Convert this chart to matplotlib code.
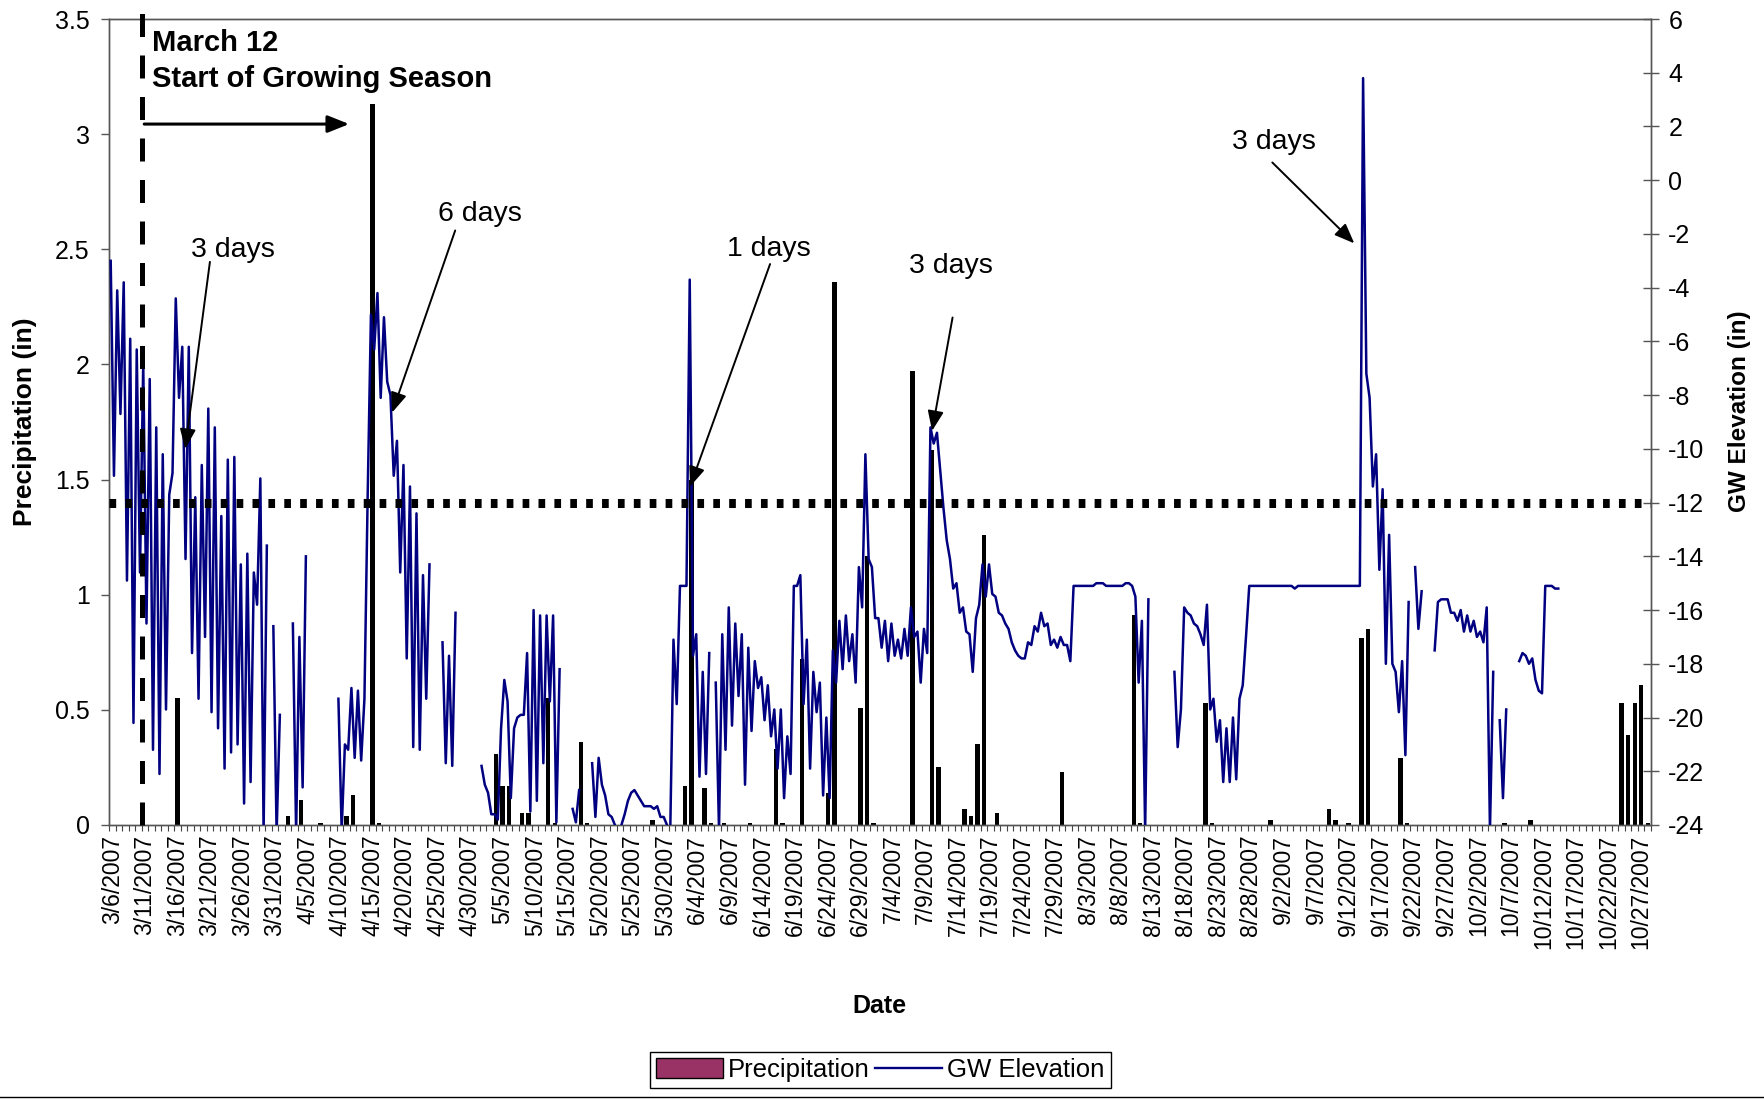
import matplotlib
matplotlib.use('Agg')
import matplotlib.pyplot as plt
import numpy as np
import pandas as pd
from matplotlib.patches import Patch
from matplotlib.lines import Line2D

plt.rcParams['font.family'] = ['Liberation Sans', 'DejaVu Sans']
plt.rcParams['axes.unicode_minus'] = False

# one category per day, 3/6/2007 .. 10/28/2007
start = pd.Timestamp('2007-03-06')
n_days = 237
dates = pd.date_range(start, periods=n_days)

# daily precipitation (in), only the days with a bar
rain_dates = ['3/16', '4/2', '4/4', '4/7', '4/11', '4/12', '4/15', '4/16', '5/4', '5/5',
              '5/6', '5/8', '5/9', '5/12', '5/13', '5/17', '5/18', '5/28', '6/2', '6/3',
              '6/5', '6/6', '6/8', '6/12', '6/16', '6/17', '6/20', '6/24', '6/25', '6/29',
              '6/30', '7/1', '7/7', '7/10', '7/11', '7/15', '7/16', '7/17', '7/18', '7/20',
              '7/30', '8/10', '8/11', '8/21', '8/22', '8/31', '9/9', '9/10', '9/12', '9/14',
              '9/15', '9/20', '9/21', '10/6', '10/10', '10/24', '10/25', '10/26', '10/27', '10/28']
rain_in = [0.55, 0.04, 0.11, 0.01, 0.04, 0.13, 3.13, 0.01, 0.31, 0.17,
           0.17, 0.05, 0.05, 0.55, 0.01, 0.36, 0.01, 0.02, 0.17, 1.50,
           0.16, 0.01, 0.01, 0.01, 0.33, 0.01, 0.72, 0.14, 2.36, 0.51,
           1.17, 0.01, 1.97, 1.63, 0.25, 0.07, 0.04, 0.35, 1.26, 0.05,
           0.23, 0.91, 0.01, 0.53, 0.01, 0.02, 0.07, 0.02, 0.01, 0.81,
           0.85, 0.29, 0.01, 0.01, 0.02, 0.53, 0.39, 0.53, 0.61, 0.01]

# groundwater elevation (in), two readings a day from 3/6, None = no reading
gw_elev = [
    -3.0, -11.0, -4.1, -8.7, -3.8, -14.9, -5.9, -20.2, -6.3, -14.6,
    -6.8, -16.5, -7.4, -21.2, -9.2, -22.1, -10.2, -19.7, -11.7, -10.9,
    -4.4, -8.1, -6.2, -14.1, -6.2, -17.6, -11.8, -19.3, -10.6, -17.0,
    -8.5, -19.8, -9.2, -20.4, -12.5, -21.9, -10.4, -21.3, -10.3, -21.0,
    -14.3, -23.2, -13.9, -22.4, -14.6, -15.8, -11.1, -24.3, -13.6, None,
    -16.6, -24.3, -19.9, None, None, None, -16.5, -24.3, -17.0, -22.6,
    -14.0, None, None, None, None, None, None, None, None, None,
    -19.3, -24.2, -21.0, -21.2, -18.9, -21.5, -19.0, -21.6, -19.3, -11.7,
    -5.0, -6.3, -4.2, -8.1, -5.1, -7.5, -8.0, -11.0, -9.7, -14.6,
    -10.6, -17.8, -11.4, -21.1, -12.4, -21.2, -14.7, -19.3, -14.3, None,
    None, None, -17.2, -21.7, -17.7, -21.8, -16.1, None, None, None,
    None, None, None, None, -21.8, -22.5, -22.8, -23.6, -23.6, -23.8,
    -20.4, -18.6, -19.4, -23.0, -20.4, -20.0, -19.9, -19.9, -17.6, -23.5,
    -16.0, -23.1, -16.2, -21.7, -16.2, -19.4, -16.2, -23.9, -18.2, None,
    None, None, -23.4, -23.9, -22.7, None, None, None, -21.7, -23.7,
    -21.5, -22.5, -22.9, -23.6, -23.7, -24.0, -24.3, -24.0, -23.6, -23.1,
    -22.8, -22.7, -22.9, -23.1, -23.3, -23.3, -23.3, -23.4, -23.3, -23.7,
    -23.7, -24.0, -24.3, -17.1, -19.5, -15.1, -15.1, -15.1, -3.7, -17.7,
    -16.9, -22.2, -18.3, -22.1, -17.6, None, -18.7, -24.2, -16.9, -21.2,
    -15.9, -20.3, -16.5, -19.2, -16.9, -22.5, -17.4, -20.5, -17.9, -18.9,
    -18.5, -20.1, -18.8, -20.7, -19.7, -21.9, -19.7, -23.0, -20.7, -22.1,
    -15.1, -15.1, -14.7, -19.5, -17.1, -21.9, -18.3, -19.8, -18.7, -22.9,
    -20.0, -23.0, -17.5, -18.7, -16.4, -18.2, -16.2, -17.9, -16.9, -18.7,
    -14.4, -15.9, -10.2, -14.1, -14.4, -16.3, -16.3, -17.4, -16.4, -17.9,
    -16.5, -17.7, -17.1, -17.8, -16.7, -17.7, -15.9, -17.0, -16.8, -18.7,
    -16.7, -17.6, -9.2, -9.8, -9.4, -10.8, -12.2, -13.4, -14.1, -15.2,
    -15.0, -16.1, -15.9, -16.8, -16.9, -18.3, -16.3, -15.8, -14.3, -15.5,
    -14.3, -15.4, -15.5, -16.1, -16.2, -16.5, -16.7, -17.2, -17.5, -17.7,
    -17.8, -17.8, -17.2, -17.3, -16.6, -16.8, -16.1, -16.6, -16.5, -17.3,
    -17.1, -17.4, -17.0, -17.3, -17.3, -17.9, -15.1, -15.1, -15.1, -15.1,
    -15.1, -15.1, -15.1, -15.0, -15.0, -15.0, -15.1, -15.1, -15.1, -15.1,
    -15.1, -15.1, -15.0, -15.0, -15.1, -15.5, -18.7, -16.4, -24.2, -15.6,
    None, None, None, None, None, None, None, -18.3, -21.1, -19.7,
    -15.9, -16.1, -16.2, -16.5, -16.6, -16.9, -17.3, -15.8, -19.7, -19.3,
    -20.9, -20.1, -22.4, -20.4, -22.4, -20.0, -22.3, -19.3, -18.8, -17.0,
    -15.1, -15.1, -15.1, -15.1, -15.1, -15.1, -15.1, -15.1, -15.1, -15.1,
    -15.1, -15.1, -15.1, -15.1, -15.2, -15.1, -15.1, -15.1, -15.1, -15.1,
    -15.1, -15.1, -15.1, -15.1, -15.1, -15.1, -15.1, -15.1, -15.1, -15.1,
    -15.1, -15.1, -15.1, -15.1, -15.1, 3.8, -7.2, -8.1, -11.4, -10.2,
    -14.5, -11.5, -18.0, -13.2, -18.0, -18.3, -19.8, -17.9, -21.4, -15.7,
    None, -14.4, -16.7, -15.3, None, None, None, -17.5, -15.7, -15.6,
    -15.6, -15.6, -16.1, -16.1, -16.4, -16.0, -16.8, -16.2, -16.8, -16.4,
    -17.0, -16.8, -17.2, -15.9, -24.2, -18.3, None, -20.1, -23.0, -19.7,
    None, None, None, -17.9, -17.6, -17.7, -18.0, -17.8, -18.6, -19.0,
    -19.1, -15.1, -15.1, -15.1, -15.2, -15.2,
]

# build the daily precipitation series
rain_idx = [(pd.Timestamp(d + '/2007') - start).days for d in rain_dates]
precip = np.zeros(n_days)
precip[rain_idx] = rain_in

gw = np.array(gw_elev, dtype=float)
gw_t = 0.25 + 0.5 * np.arange(len(gw))

fig = plt.figure(figsize=(17.65, 11), dpi=100)
ax = fig.add_axes([0.0618, 0.25, 0.8736, 0.7327])
ax2 = ax.twinx()

ax.bar(np.arange(n_days) + 0.5, precip, width=0.68, color='black', zorder=2)
ax2.plot(gw_t, gw, color='#000080', lw=1.8, zorder=3)

# 12 in below surface criterion and start of growing season
ax2.axhline(-12, color='black', lw=6.5, linestyle=(0, (0.74, 1.02)),
            dash_capstyle='butt', zorder=5)
ax2.plot([5.1, 5.1], [-24, 6.75], color='black', lw=3.6,
         linestyle=(0, (4.6, 3.7)), clip_on=False, zorder=5)

ax.set_xlim(0, n_days)
ax.set_ylim(0, 3.5)
ax2.set_ylim(-24, 6)

tick_pos = np.arange(0, n_days, 5) + 0.5
tick_lab = ['%d/%d/%d' % (d.month, d.day, d.year) for d in dates[::5]]
ax.set_xticks(tick_pos)
ax.set_xticklabels(tick_lab, rotation=90, fontsize=16.5)
ax.set_xticks(np.arange(0, n_days + 1), minor=True)
ax.tick_params(axis='x', which='major', length=0, pad=7)
ax.tick_params(axis='x', which='minor', length=4, width=0.8, direction='out', color='#444444')

ax.set_yticks(np.arange(0, 3.51, 0.5))
ax.set_yticklabels(['0', '0.5', '1', '1.5', '2', '2.5', '3', '3.5'])
ax.tick_params(axis='y', direction='out', length=6, width=1, labelsize=18, pad=8, color='#555555')
ax2.set_yticks(np.arange(-24, 7, 2))
ax2.tick_params(axis='y', direction='inout', length=11, width=1, labelsize=18, pad=7, color='#555555')

for a in (ax, ax2):
    for s in a.spines.values():
        s.set_color('#555555')
        s.set_linewidth(1)

ax.set_ylabel('Precipitation (in)', fontsize=19, fontweight='bold')
ax.yaxis.set_label_coords(-0.047, 0.5)
ax2.set_ylabel('GW Elevation (in)', fontsize=17.5, fontweight='bold')
ax2.yaxis.set_label_coords(1.050, 0.514)
ax.set_xlabel('Date', fontsize=18, fontweight='bold')
ax.xaxis.set_label_coords(0.4994, -0.2096)

# annotations
ax2.text(6.6, 4.82, 'March 12', fontsize=21, fontweight='bold', ha='left', va='baseline')
ax2.text(6.6, 3.48, 'Start of Growing Season', fontsize=21, fontweight='bold', ha='left', va='baseline')
ax2.annotate('', xy=(36.9, 2.09), xytext=(5.4, 2.09),
             arrowprops=dict(arrowstyle='-|>,head_length=0.5,head_width=0.2', color='black',
                             lw=2.2, mutation_scale=26, shrinkA=0, shrinkB=0))

arrow_kw = dict(arrowstyle='-|>,head_length=0.45,head_width=0.18', color='black',
                lw=1.4, mutation_scale=27, shrinkA=0, shrinkB=0)
notes = [
    ('3 days', (19.06, -2.6), (15.5, -3.04), (11.7, -10.0)),
    ('6 days', (57.0, -1.26), (53.2, -1.87), (43.5, -8.65)),
    ('1 days', (101.4, -2.56), (101.6, -3.12), (89.3, -11.4)),
    ('3 days', (129.4, -3.19), (129.65, -5.11), (126.5, -9.33)),
    ('3 days', (179.1, 1.42), (178.8, 0.66), (191.4, -2.35)),
]
for txt, tpos, a0, a1 in notes:
    ax2.text(tpos[0], tpos[1], txt, fontsize=20.5, ha='center', va='center')
    ax2.annotate('', xy=a1, xytext=a0, arrowprops=arrow_kw)

handles = [Patch(facecolor='#993366', edgecolor='black', lw=1),
           Line2D([], [], color='#000080', lw=1.7)]
fig.legend(handles, ['Precipitation', 'GW Elevation'], loc='center',
           bbox_to_anchor=(880 / 1765, 1 - 1070 / 1100), ncol=2, fontsize=18.5,
           frameon=True, fancybox=False, edgecolor='black', framealpha=1,
           handlelength=2.6, handleheight=0.8, handletextpad=0.2, columnspacing=0.2,
           borderpad=0.25, borderaxespad=0)

fig.add_artist(Line2D([0, 1], [0.0023, 0.0023], transform=fig.transFigure, color='black', lw=1))

fig.savefig('out.png', dpi=100)
